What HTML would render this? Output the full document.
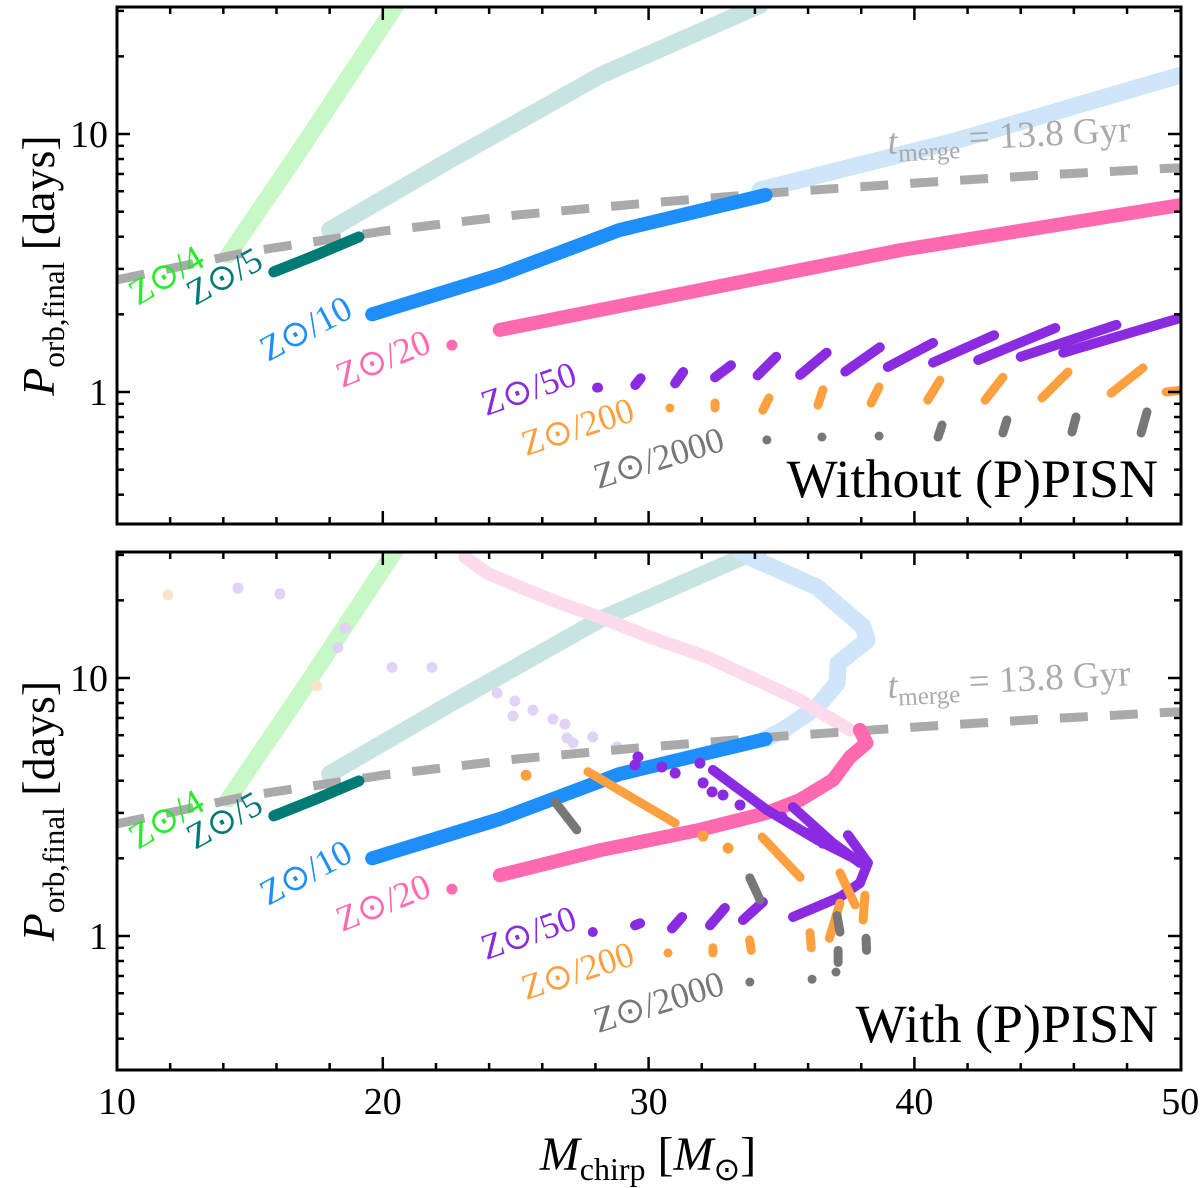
<!DOCTYPE html>
<html><head><meta charset="utf-8"><style>
body{margin:0;background:#fff}
svg{display:block;font-family:"Liberation Serif",serif}
</style></head><body>
<svg id="chart" width="1200" height="1188" viewBox="0 0 1200 1188" xmlns="http://www.w3.org/2000/svg">
<defs>
<clipPath id="clipTop"><rect x="117" y="7" width="1064" height="517"/></clipPath>
<clipPath id="clipBot"><rect x="117" y="552" width="1064" height="518"/></clipPath>
</defs>
<g id="topPanel"></g>
<g id="botPanel"></g>
</svg>
<script>
// ---- data (Mchirp [Msun], Porb [days]) ----
const xTicks = [10, 20, 30, 40, 50];
const yTickLabels = ["1", "10"];
const yTicks = [1, 10];
const yMinor = [0.4,0.5,0.6,0.7,0.8,0.9,2,3,4,5,6,7,8,9,20,30];
const tmerge = [[10,2.72],[15,3.5],[20,4.2],[25,4.85],[30,5.4],[35,5.95],[40,6.45],[45,6.95],[50,7.4]];
const greenBand = [[14.2,3.4],[16.9,8.7],[20.5,31.6]];
const tealBand = [[18.0,4.25],[22.5,7.9],[28.2,16.9],[34.2,31.6]];
const darkTeal = [[15.9,2.92],[17.5,3.4],[19.1,3.99]];
const lightBlueTop = [[34.2,6.07],[41.7,9.5],[50,16.9]];
const blueBand = [[19.6,2.0],[24.4,2.84],[28.9,4.24],[34.4,5.8]];
const pinkTop = [[24.4,1.74],[31.9,2.48],[39.5,3.55],[50,5.3]];
const pinkDot = [[22.6,1.52]];
const purpleTop = [[28.06,1.04,28.1,1.04],[29.5,1.065,29.7,1.13],[31.0,1.08,31.3,1.195],[32.5,1.14,33.1,1.27],[34.1,1.16,34.8,1.37],[35.7,1.165,36.7,1.42],[37.4,1.20,38.7,1.49],[39.0,1.25,40.7,1.55],[40.7,1.30,43.0,1.66],[42.4,1.33,45.3,1.77],[44.0,1.37,47.6,1.82],[45.6,1.42,50.1,1.95]];
const orangeTop = [[30.8,0.867,30.8,0.867],[32.5,0.867,32.5,0.906],[34.3,0.85,34.53,0.948],[36.37,0.89,36.56,1.02],[38.37,0.906,38.67,1.045],[40.5,0.93,40.96,1.11],[42.66,0.93,43.33,1.14],[44.8,0.948,45.78,1.195],[47.4,0.99,48.6,1.24],[49.47,1.0,50.2,1.02]];
const grayTop = [[34.45,0.652,34.45,0.652],[36.52,0.669,36.52,0.669],[38.67,0.675,38.67,0.675],[40.89,0.669,41.04,0.745],[43.33,0.694,43.48,0.779],[45.93,0.70,46.08,0.80],[48.53,0.694,48.75,0.837]];
// bottom panel (with PPISN)
const lightBlueBot = [[34.4,5.8],[35.06,6.29],[36.34,7.72],[37.09,9.56],[37.13,11.4],[38.22,14.0],[38.07,15.8],[36.34,22.5],[33.81,29.4],[33.4,31.3]];
const pinkBot = [[24.4,1.72],[28.17,2.15],[31.93,2.58],[34.45,3.0],[35.7,3.37],[36.94,4.03],[37.58,4.94],[38.2,5.6],[37.95,6.29]];
const palePink = [[37.58,6.29],[35.7,8.2],[33.81,10.1],[32.2,12.05],[30.05,14.4],[28.17,17.2],[26.67,19.5],[25.16,22.5],[23.92,25.5],[23.09,29.4]];
const palePurple = [[14.55,22.3],[16.13,21.2],[18.58,15.6],[18.31,13.1],[20.35,11.0],[21.85,11.0],[24.3,8.75],[24.97,8.14],[24.9,7.12],[25.65,7.51],[26.4,6.93],[26.85,6.63],[26.93,5.86],[27.16,5.6],[27.9,5.91],[28.81,5.4]];
const paleOrange = [[11.92,21.0],[17.52,9.3]];
const purpleBotSeg = [[27.9,1.036,27.9,1.036],[29.49,1.10,29.68,1.12],[30.88,1.07,31.26,1.185],[32.31,1.10,32.87,1.284],[33.55,1.153,34.3,1.354],[35.43,1.185,37.2,1.416],[37.2,1.416,37.95,1.605],[37.95,1.605,38.25,1.92],[38.25,1.92,37.5,2.46],[32.42,4.4,34.45,3.08],[34.45,3.08,36.34,2.36],[36.34,2.36,38.07,1.92],[35.43,3.16,36.94,2.29],[36.94,2.29,37.95,1.92]];
const purpleBotDots = [[29.6,4.94],[29.49,4.6],[30.5,4.52],[31.0,4.28],[31.93,4.68],[32.05,3.92],[32.39,3.62],[32.8,3.52],[33.44,3.22],[35.02,2.89],[36.0,2.5],[36.56,2.29]];
const orangeBotSeg = [[27.72,4.33,31.0,2.74],[34.27,2.42,35.7,1.69],[37.2,1.756,37.77,1.32],[38.14,1.44,38.07,1.153],[30.73,0.86,30.73,0.86],[32.42,0.90,32.42,0.86],[33.8,0.965,33.86,0.88],[36.07,1.03,36.12,0.9],[36.8,0.98,37.2,1.34]];
const orangeBotDots = [[25.39,4.2],[32.05,2.44],[32.99,2.19]];
const grayBotSeg = [[26.48,3.31,27.3,2.58],[33.81,1.68,34.19,1.38],[37.09,1.2,37.2,1.036],[37.13,0.88,37.13,0.79],[38.18,0.98,38.2,0.88],[33.81,0.663,33.81,0.663],[36.15,0.68,36.15,0.68],[37.05,0.725,37.05,0.725]];

// ---- scales ----
const X0 = 117, XS = 26.58;
function xs(v){ return X0 + (v - 10) * XS; }
function ysFor(base){ return function(p){ return base - Math.log10(p) * 258; }; }
const NS = "http://www.w3.org/2000/svg";
function mk(tag, attrs, parent){ const e = document.createElementNS(NS, tag); for (const k in attrs) e.setAttribute(k, attrs[k]); parent.appendChild(e); return e; }

function band(g, pts, ys, color, w, name){
  const d = pts.map((p,i)=>(i?"L":"M")+xs(p[0]).toFixed(1)+" "+ys(p[1]).toFixed(1)).join(" ");
  const e = mk("path", {d:d, fill:"none", stroke:color, "stroke-width":w, "stroke-linecap":"round", "stroke-linejoin":"round"}, g);
  
  
  return e;
}
function segs(g, arr, ys, color, w, name){
  arr.forEach(s=>{
    const e = mk("line", {x1:xs(s[0]), y1:ys(s[1]), x2:xs(s[2]), y2:ys(s[3]), stroke:color, "stroke-width":w, "stroke-linecap":"round"}, g);
    
    
  });
}
function dots(g, arr, ys, color, r, name){
  arr.forEach(p=>{
    const e = mk("circle", {cx:xs(p[0]), cy:ys(p[1]), r:r, fill:color}, g);
    
    
  });
}
function label(g, txt, x, y, rot, color, size, name){
  const t = mk("text", {x:x, y:y, fill:color, "font-size":size, transform:"rotate("+rot+" "+x+" "+y+")"}, g);
  t.textContent = txt;
  
  
}
function zlabels(g, dy){
  const L = [["Z\u2299/4",138,306+dy,-31,"#22ee22","metallicity-label-z4"],
             ["Z\u2299/5",195,306+dy,-29,"#007a73","metallicity-label-z5"],
             ["Z\u2299/10",268,362+dy,-28,"#1e8ffa","metallicity-label-z10"],
             ["Z\u2299/20",342,388+dy,-22,"#ff69b0","metallicity-label-z20"],
             ["Z\u2299/50",486,416+dy,-19,"#8a2be2","metallicity-label-z50"],
             ["Z\u2299/200",526,456+dy,-18,"#ffa040","metallicity-label-z200"],
             ["Z\u2299/2000",598,489+dy,-17,"#777777","metallicity-label-z2000"]];
  L.forEach(l=>label(g,l[0],l[1],l[2],l[3],l[4],36,l[5]));
}
function axes(g, top, bot, ys, showXLabels){
  const r = mk("rect",{x:117,y:top,width:1064,height:bot-top,fill:"none",stroke:"#000","stroke-width":3},g);
   
  for (let v=10; v<=50; v+=2){
    const major = (v%10===0), L = major?13:7, x = xs(v);
    if (v>10 && v<50){
      mk("line",{x1:x,y1:bot,x2:x,y2:bot-L,stroke:"#000","stroke-width":2.5},g);
      mk("line",{x1:x,y1:top,x2:x,y2:top+L,stroke:"#000","stroke-width":2.5},g);
    }
  }
  if (showXLabels){
    xTicks.forEach(v=>{
      const t = mk("text",{x:xs(v),y:1114,"font-size":38,"text-anchor":"middle",fill:"#000"},g);
      t.textContent = String(v);
       
    });
  }
  yTicks.forEach((v,i)=>{
    const y = ys(v);
    mk("line",{x1:117,y1:y,x2:130,y2:y,stroke:"#000","stroke-width":2.5},g);
    mk("line",{x1:1181,y1:y,x2:1168,y2:y,stroke:"#000","stroke-width":2.5},g);
    const t = mk("text",{x:108,y:y+13,"font-size":38,"text-anchor":"end",fill:"#000"},g);
    t.textContent = yTickLabels[i];
     
  });
  yMinor.forEach(v=>{
    const y = ys(v);
    if (y<top+2||y>bot-2) return;
    mk("line",{x1:117,y1:y,x2:124,y2:y,stroke:"#000","stroke-width":2.5},g);
    mk("line",{x1:1181,y1:y,x2:1174,y2:y,stroke:"#000","stroke-width":2.5},g);
  });
  const yl = mk("text",{x:0,y:0,"font-size":46,"text-anchor":"middle",fill:"#000",transform:"translate(54,"+((top+bot)/2)+") rotate(-90)"},g);
  yl.innerHTML = '<tspan font-style="italic">P</tspan><tspan font-size="31" dy="10">orb,final</tspan><tspan dy="-10"> [days]</tspan>';
   
}
function tmergeLabel(g, dy){
  const t = mk("text",{x:888,y:154+dy,"font-size":37,fill:"#aaaaaa",transform:"rotate(-3 888 "+(154+dy)+")"},g);
  t.innerHTML = '<tspan font-style="italic">t</tspan><tspan font-size="25" dy="8">merge</tspan><tspan dy="-8"> = 13.8 Gyr</tspan>';
   
}
function dashed(c, ys){
  const e = band(c, tmerge, ys, "#aaaaaa", 9, "tmerge-line");
  e.setAttribute("stroke-dasharray","28 22");
  e.setAttribute("stroke-linecap","butt");
}

// ---- top panel ----
(function(){
  const g = document.getElementById("topPanel"), ys = ysFor(392);
  const c = mk("g",{"clip-path":"url(#clipTop)"},g);
  band(c, greenBand, ys, "#c8f8c6", 17, "z4-series");
  band(c, tealBand, ys, "#c8e4e2", 17, "z5-pale-series");
  band(c, lightBlueTop, ys, "#cfe6fa", 17, "z10-pale-series");
  dashed(c, ys);
  band(c, darkTeal, ys, "#007a73", 11, "z5-series");
  band(c, blueBand, ys, "#1e8ffa", 14, "z10-series");
  band(c, pinkTop, ys, "#ff69b0", 14, "z20-series");
  dots(c, pinkDot, ys, "#ff69b0", 5.5, "z20-point");
  segs(c, purpleTop, ys, "#8a2be2", 10, "z50-segment");
  segs(c, orangeTop, ys, "#ffa040", 9, "z200-segment");
  segs(c, grayTop, ys, "#777777", 9, "z2000-segment");
  zlabels(g, 0);
  tmergeLabel(g, 0);
  const t = mk("text",{x:1158,y:497,"font-size":54,"text-anchor":"end",fill:"#000"},g);
  t.textContent = "Without (P)PISN";
   
  axes(g, 7, 524, ys, false);
})();

// ---- bottom panel ----
(function(){
  const g = document.getElementById("botPanel"), ys = ysFor(936);
  const c = mk("g",{"clip-path":"url(#clipBot)"},g);
  band(c, greenBand, ys, "#c8f8c6", 17, "z4-series");
  band(c, tealBand, ys, "#c8e4e2", 17, "z5-pale-series");
  band(c, lightBlueBot, ys, "#cfe6fa", 17, "z10-pale-series");
  band(c, palePink, ys, "#fcdcec", 13, "z20-pale-series");
  dots(c, palePurple, ys, "#e2d2f6", 5.5, "z50-pale-point");
  dots(c, paleOrange, ys, "#fde3cc", 5.5, "z200-pale-point");
  dashed(c, ys);
  band(c, darkTeal, ys, "#007a73", 11, "z5-series");
  band(c, blueBand, ys, "#1e8ffa", 14, "z10-series");
  band(c, pinkBot, ys, "#ff69b0", 14, "z20-series");
  dots(c, pinkDot, ys, "#ff69b0", 5.5, "z20-point");
  segs(c, purpleBotSeg, ys, "#8a2be2", 10, "z50-segment");
  dots(c, purpleBotDots, ys, "#8a2be2", 5.5, "z50-point");
  segs(c, orangeBotSeg, ys, "#ffa040", 9, "z200-segment");
  dots(c, orangeBotDots, ys, "#ffa040", 5.5, "z200-point");
  segs(c, grayBotSeg, ys, "#777777", 9, "z2000-segment");
  zlabels(g, 544);
  tmergeLabel(g, 544);
  const t = mk("text",{x:1158,y:1042,"font-size":54,"text-anchor":"end",fill:"#000"},g);
  t.textContent = "With (P)PISN";
   
  axes(g, 552, 1070, ys, true);
  const xl = mk("text",{x:648,y:1170,"font-size":48,"text-anchor":"middle",fill:"#000"},g);
  xl.innerHTML = '<tspan font-style="italic">M</tspan><tspan font-size="32" dy="10">chirp</tspan><tspan dy="-10"> [</tspan><tspan font-style="italic">M</tspan><tspan font-size="32" dy="10">\u2299</tspan><tspan dy="-10">]</tspan>';
   
})();
</script>
</body></html>
